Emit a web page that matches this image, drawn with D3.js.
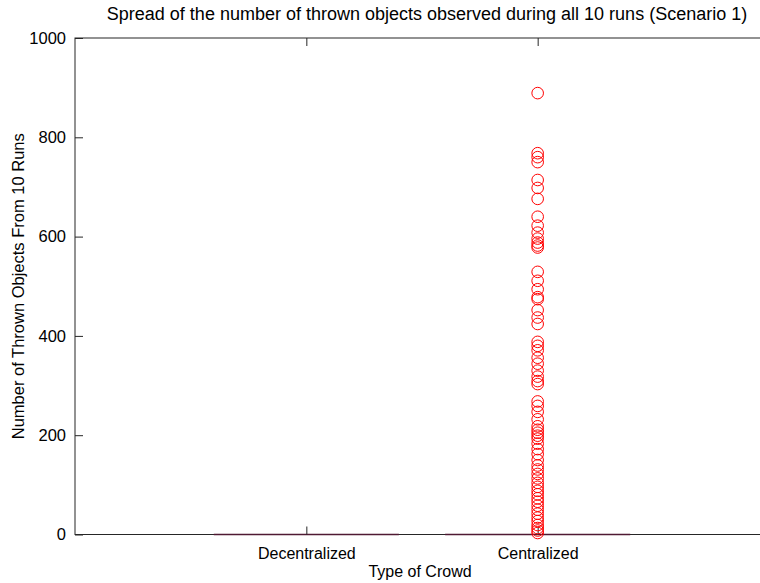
<!DOCTYPE html>
<html>
<head>
<meta charset="utf-8">
<script src="https://cdn.jsdelivr.net/npm/d3@7"></script>
<style>
  body { margin: 0; background: #fff; }
  svg text { font-family: "Liberation Sans", Arial, sans-serif; fill: #000; }
</style>
</head>
<body>
<div class="container"></div>
<script>
const width = 760;
const height = 583;
const margin = { top: 38, bottom: 48, left: 75, right: -9 }

// data
const categories = ["Decentralized", "Centralized"];
const yTicks = [0, 200, 400, 600, 800, 1000];
// box stats: all quartiles are zero in both groups
const boxMedian = [0, 0];
// outliers of the Centralized group
const centralizedOutliers = [889, 768, 760, 750, 714, 698, 676, 640, 622, 608, 596, 588, 582, 578,
    529, 511, 494, 478, 474, 452, 437, 424, 388, 380, 371, 356, 344, 330, 318, 309, 303,
    268, 259, 247, 232, 218, 211, 205, 199, 193, 183, 172, 162, 150, 139, 131, 122, 113,
    104, 96, 88, 81, 73, 66, 58, 50, 42, 34, 27, 19, 13, 8, 3];

const svg = d3.select(".container")
    .append("svg")
    .attr("width", width)
    .attr("height", height);

const x = d3.scaleLinear()
    .domain([0, categories.length + 1])
    .range([margin.left, width - margin.right]);

const y = d3.scaleLinear()
    .domain([0, 1000])
    .range([height - margin.bottom - 0.5, margin.top]);

const axisColor = "#262626";
const tickLen = 8;
const boxW = 0.8;

// frame
const x0 = x.range()[0], x1 = x.range()[1];
const y0 = y.range()[0], y1 = y.range()[1];
svg.append("rect")
    .attr("x", x0)
    .attr("y", y1)
    .attr("width", x1 - x0)
    .attr("height", y0 - y1)
    .attr("fill", "none")
    .attr("stroke", axisColor)
    .attr("stroke-width", 1);

// boxes (zero height -> flat line on the baseline)
svg.append("g").selectAll("line")
    .data(boxMedian)
    .join("line")
    .attr("x1", (d, i) => x(i + 1 - boxW / 2))
    .attr("x2", (d, i) => x(i + 1 + boxW / 2))
    .attr("y1", d => y(d))
    .attr("y2", d => y(d))
    .attr("stroke", "#4f1a33")
    .attr("stroke-width", 1.3);

// y axis left + right (inward ticks)
svg.append("g")
    .attr("transform", `translate(${x0},0)`)
    .call(d3.axisLeft(y).tickValues(yTicks).tickSize(-tickLen).tickPadding(9).tickFormat(d3.format("d")))
    .call(g => g.select(".domain").remove())
    .call(g => g.selectAll(".tick line").attr("stroke", axisColor))
    .call(g => g.selectAll("text").attr("font-size", 16.5).attr("font-family", "Liberation Sans, Arial, sans-serif"));

svg.append("g")
    .attr("transform", `translate(${x1},0)`)
    .call(d3.axisRight(y).tickValues(yTicks).tickSize(-tickLen).tickFormat(""))
    .call(g => g.select(".domain").remove())
    .call(g => g.selectAll(".tick line").attr("stroke", axisColor));

// x axis bottom + top
svg.append("g")
    .attr("transform", `translate(0,${y0})`)
    .call(d3.axisBottom(x).tickValues([1, 2]).tickSize(-tickLen).tickPadding(13).tickFormat(d => categories[d - 1]))
    .call(g => g.select(".domain").remove())
    .call(g => g.selectAll(".tick line").attr("stroke", axisColor))
    .call(g => g.selectAll("text").attr("font-size", 16).attr("font-family", "Liberation Sans, Arial, sans-serif"));

svg.append("g")
    .attr("transform", `translate(0,${y1})`)
    .call(d3.axisTop(x).tickValues([1, 2]).tickSize(-tickLen).tickFormat(""))
    .call(g => g.select(".domain").remove())
    .call(g => g.selectAll(".tick line").attr("stroke", axisColor));

// outliers
svg.append("g").selectAll("circle")
    .data(centralizedOutliers)
    .join("circle")
    .attr("cx", x(2))
    .attr("cy", d => y(d))
    .attr("r", 5.8)
    .attr("fill", "none")
    .attr("stroke", "#ff0000")
    .attr("stroke-width", 1);

// title and labels
svg.append("text")
    .attr("x", 427)
    .attr("y", 20)
    .attr("text-anchor", "middle")
    .attr("font-size", 18)
    .text("Spread of the number of thrown objects observed during all 10 runs (Scenario 1)");

svg.append("text")
    .attr("x", 420)
    .attr("y", 577)
    .attr("text-anchor", "middle")
    .attr("font-size", 16)
    .text("Type of Crowd");

svg.append("text")
    .attr("transform", `translate(24,${(y0 + y1) / 2}) rotate(-90)`)
    .attr("text-anchor", "middle")
    .attr("font-size", 16.5)
    .text("Number of Thrown Objects From 10 Runs");
</script>
</body>
</html>
